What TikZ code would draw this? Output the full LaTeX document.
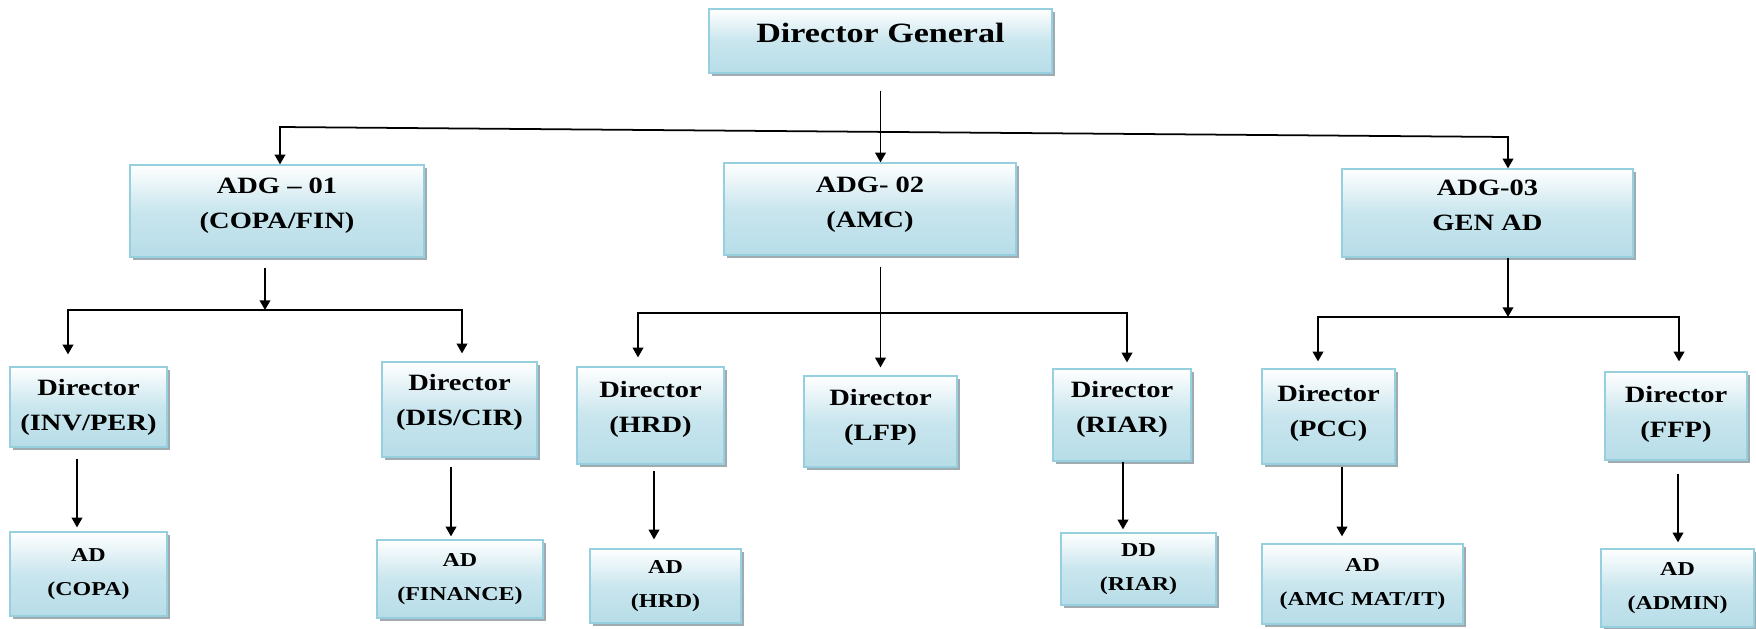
\documentclass[tikz,border=0pt]{standalone}
\usepackage{fontspec}
\setmainfont{Liberation Serif}
\newfontfamily\orgfont[FakeStretch=1.22]{Liberation Serif}
\usetikzlibrary{arrows.meta}
\usetikzlibrary{shadows}
\definecolor{boxblue}{RGB}{183,221,232}
\definecolor{boxline}{RGB}{150,207,222}
\definecolor{shadowgrey}{RGB}{150,162,168}

\begin{document}
\begin{tikzpicture}[x=0.02cm, y=-0.02cm,
    office/.style={rectangle, draw=boxline, line width=0.7pt, top color=white, bottom color=boxblue, middle color=boxblue!75, align=center, inner sep=1pt, drop shadow={shadow xshift=0.06cm, shadow yshift=-0.06cm, fill=shadowgrey, opacity=0.9}},
    boxsize/.style 2 args={minimum width=#1*0.02cm, minimum height=#2*0.02cm},
    head/.style={office, font=\orgfont\bfseries\fontsize{15.9}{19}\selectfont},
    mid/.style={office, font=\orgfont\bfseries\fontsize{13.3}{19.9}\selectfont},
    low/.style={office, font=\orgfont\bfseries\fontsize{11.2}{19.7}\selectfont},
    line/.style={line width=1pt},
    arr/.style={line, -{Triangle[width=6pt, length=5.5pt]}},
    fork/.style={line, {Triangle[width=6pt, length=5.5pt]}-{Triangle[width=6pt, length=5.5pt]}}]
    \useasboundingbox (0,0) rectangle (1756,629);

    % Director General
    \node[head, boxsize={343}{64}, text depth=9pt] (dg) at (880.5,41) {Director General};

    % Assistant Directors General
    \node[mid, boxsize={294}{92}, text depth=8.8pt] (adga) at (277,211) {ADG – 01\\(COPA/FIN)};
    \node[mid, boxsize={292}{92}, text depth=8.2pt] (adgb) at (870,209) {ADG- 02\\(AMC)};
    \node[mid, boxsize={291}{88}, text depth=9pt] (adgc) at (1487.5,213) {ADG-03\\GEN AD};

    % Directors
    \node[mid, boxsize={157}{80}] (dinv) at (88.5,407) {Director\\(INV/PER)};
    \node[mid, boxsize={155}{95}, text depth=11.4pt] (ddis) at (459.5,409.5) {Director\\(DIS/CIR)};
    \node[mid, boxsize={147}{97}, text depth=10pt] (dhrd) at (650.5,415.5) {Director\\(HRD)};
    \node[mid, boxsize={153}{91}, text depth=7.4pt] (dlfp) at (880.5,421.5) {Director\\(LFP)};
    \node[mid, boxsize={138}{92}, text depth=8.8pt] (driar) at (1122,415) {Director\\(RIAR)};
    \node[mid, boxsize={133}{95}, text depth=6.2pt] (dpcc) at (1328.5,416.5) {Director\\(PCC)};
    \node[mid, boxsize={142}{88}, text depth=5pt] (dffp) at (1676,416) {Director\\(FFP)};

    % Assistant and Deputy Directors
    \node[low, boxsize={157}{84}] (adcopa) at (88.5,574) {AD\\(COPA)};
    \node[low, boxsize={166}{78}] (adfin) at (460,579) {AD\\(FINANCE)};
    \node[low, boxsize={151}{74}] (adhrd) at (665.5,586) {AD\\(HRD)};
    \node[low, boxsize={155}{72}] (ddriar) at (1138.5,569) {DD\\(RIAR)};
    \node[low, boxsize={201}{80}] (adamc) at (1362.5,584) {AD\\(AMC MAT/IT)};
    \node[low, boxsize={153}{78}] (adadmin) at (1677.5,588) {AD\\(ADMIN)};

    % DG to ADGs
    \coordinate (busa-l) at (280,127);
    \coordinate (busa-r) at (1508,137);
    \draw[fork] (busa-l |- adga.north) -- (busa-l) -- (busa-r) -- (busa-r |- adgc.north);
    \draw[arr, shorten <=0.34cm] (dg.south) -- (dg.south |- adgb.north);

    % ADG-01 to its directors
    \coordinate (busb-l) at (68,310);
    \coordinate (busb-m) at (265,310);
    \coordinate (busb-r) at (462,310);
    \draw[arr, shorten <=0.2cm] (busb-m |- adga.south) -- (busb-m);
    \draw[fork, shorten <=0.24cm, shorten >=0.16cm] (busb-l |- dinv.north) -- (busb-l) -- (busb-r) -- (busb-r |- ddis.north);

    % ADG-02 to its directors
    \coordinate (busc-l) at (638,313);
    \coordinate (busc-r) at (1127,313);
    \draw[fork, shorten <=0.18cm, shorten >=0.12cm] (busc-l |- dhrd.north) -- (busc-l) -- (busc-r) -- (busc-r |- driar.north);
    \draw[arr, shorten <=0.22cm, shorten >=0.16cm] (dlfp.north |- adgb.south) -- (dlfp.north);

    % ADG-03 to its directors
    \coordinate (busd-l) at (1318,317);
    \coordinate (busd-m) at (1508,317);
    \coordinate (busd-r) at (1679,317);
    \draw[arr] (busd-m |- adgc.south) -- (busd-m);
    \draw[fork, shorten <=0.14cm, shorten >=0.2cm] (busd-l |- dpcc.north) -- (busd-l) -- (busd-r) -- (busd-r |- dffp.north);

    % Directors to ADs
    \foreach \src/\dst/\xx/\ga/\gb in {dinv/adcopa/77/11/4, ddis/adfin/451/9/3, dhrd/adhrd/654/6/9, driar/ddriar/1123/0/3, dpcc/adamc/1342/2/7, dffp/adadmin/1678/13/6}
        \draw[arr, shorten <=\ga*0.02cm, shorten >=\gb*0.02cm] (\xx,0 |- \src.south) -- (\xx,0 |- \dst.north);
\end{tikzpicture}
\end{document}
